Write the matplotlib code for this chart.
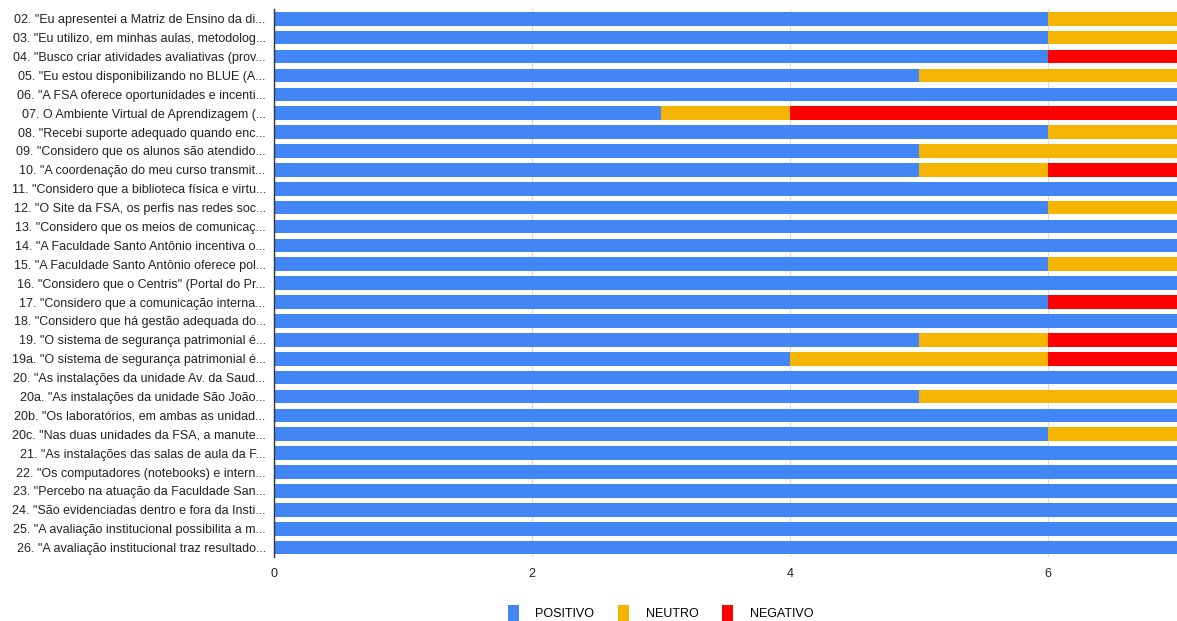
import matplotlib.pyplot as plt
import numpy as np

LABELS = [
    '02. "Eu apresentei a Matriz de Ensino da di...',
    '03. "Eu utilizo, em minhas aulas, metodolog...',
    '04. "Busco criar atividades avaliativas (prov...',
    '05. "Eu estou disponibilizando no BLUE (A...',
    '06. "A FSA oferece oportunidades e incenti...',
    '07. O Ambiente Virtual de Aprendizagem (...',
    '08. "Recebi suporte adequado quando enc...',
    '09. "Considero que os alunos são atendido...',
    '10. "A coordenação do meu curso transmit...',
    '11. "Considero que a biblioteca física e virtu...',
    '12. "O Site da FSA, os perfis nas redes soc...',
    '13. "Considero que os meios de comunicaç...',
    '14. "A Faculdade Santo Antônio incentiva o...',
    '15. "A Faculdade Santo Antônio oferece pol...',
    '16. "Considero que o Centris" (Portal do Pr...',
    '17. "Considero que a comunicação interna...',
    '18. "Considero que há gestão adequada do...',
    '19. "O sistema de segurança patrimonial é...',
    '19a. "O sistema de segurança patrimonial é...',
    '20. "As instalações da unidade Av. da Saud...',
    '20a. "As instalações da unidade São João...',
    '20b. "Os laboratórios, em ambas as unidad...',
    '20c. "Nas duas unidades da FSA, a manute...',
    '21. "As instalações das salas de aula da F...',
    '22. "Os computadores (notebooks) e intern...',
    '23. "Percebo na atuação da Faculdade San...',
    '24. "São evidenciadas dentro e fora da Insti...',
    '25. "A avaliação institucional possibilita a m...',
    '26. "A avaliação institucional traz resultado...',
]

POSITIVO = [6, 6, 6, 5, 7, 3, 6, 5, 5, 7, 6, 7, 7, 6, 7, 6, 7, 5, 4, 7,
            5, 7, 6, 7, 7, 7, 7, 7, 7]
NEUTRO = [1, 1, 0, 2, 0, 1, 1, 2, 1, 0, 1, 0, 0, 1, 0, 0, 0, 1, 2, 0,
          2, 0, 1, 0, 0, 0, 0, 0, 0]
NEGATIVO = [0, 0, 1, 0, 0, 3, 0, 0, 1, 0, 0, 0, 0, 0, 0, 1, 0, 1, 1, 0,
            0, 0, 0, 0, 0, 0, 0, 0, 0]

SERIES = ["POSITIVO", "NEUTRO", "NEGATIVO"]
COLORS = ["#4285F4", "#F4B400", "#FF0000"]

plt.rcParams["font.family"] = ["Liberation Sans", "DejaVu Sans"]

fig = plt.figure(figsize=(11.77, 6.21), dpi=100)
ax = fig.add_axes([0.2328, 0.103, 0.7672, 0.882])

y = np.arange(len(LABELS))
left = np.zeros(len(LABELS))
for name, values, color in zip(SERIES, [POSITIVO, NEUTRO, NEGATIVO], COLORS):
    values = np.array(values, dtype=float)
    ax.barh(y, values, left=left, height=0.72, color=color, label=name, zorder=2)
    left += values

ax.set_ylim(len(LABELS) - 0.5, -0.5)
ax.set_xlim(0, 7)
ax.set_xticks([0, 2, 4, 6])
ax.set_yticks(y)
ax.set_yticklabels(LABELS, fontsize=9, color="#222222")
ax.tick_params(axis="y", length=0, pad=6)
ax.tick_params(axis="x", length=0, pad=8, labelsize=9, labelcolor="#222222")

ax.grid(axis="x", color="#d9d9d9", linewidth=0.8, zorder=0)
for side in ["top", "right", "bottom"]:
    ax.spines[side].set_visible(False)
ax.spines["left"].set_color("#333333")
ax.spines["left"].set_linewidth(1.0)

ax.legend(loc="center", bbox_to_anchor=(0.428, -0.103), ncol=3,
          frameon=False, fontsize=9, handlelength=0.9, handleheight=1.8,
          columnspacing=1.9, handletextpad=1.3, borderpad=0.1)

fig.savefig("out.png", dpi=100)
